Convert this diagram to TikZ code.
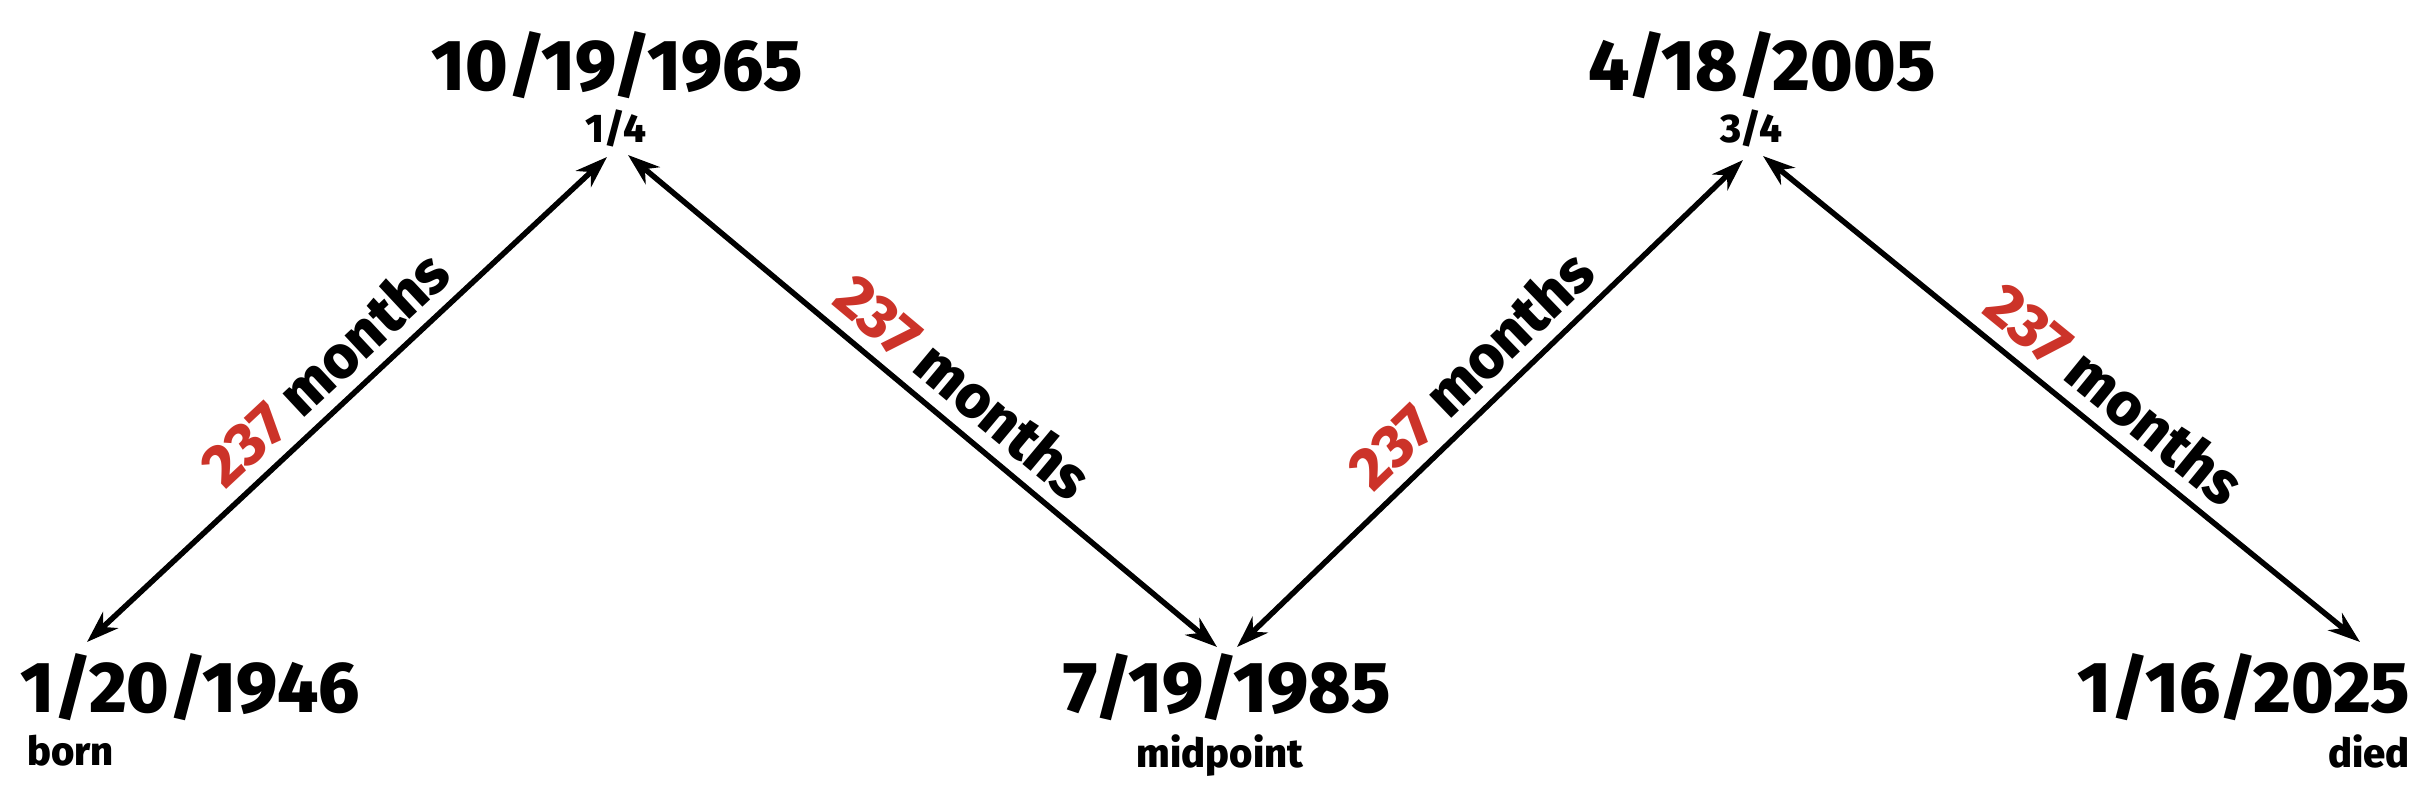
\documentclass[tikz,border=0pt]{standalone}
\usepackage{fontspec}
\IfFontExistsTF{Fira Sans Heavy}{\newfontfamily\futfont{Fira Sans Heavy}}{\IfFontExistsTF{Fira Sans ExtraBold}{\newfontfamily\futfont{Fira Sans ExtraBold}}{\newfontfamily\futfont{Fira Sans Bold}}}
\usetikzlibrary{arrows.meta}
\definecolor{numred}{HTML}{CC3329}
\begin{document}
\begin{tikzpicture}[x=1pt,y=-1pt,
  datetxt/.style={font=\futfont\fontsize{72}{72}\selectfont, inner sep=0pt, anchor=base},
  subtxt/.style={font=\futfont\fontsize{40}{40}\selectfont, inner sep=0pt, anchor=base},
  arr/.style={line width=5.5pt, {Stealth[length=32pt,width=22pt,inset=10pt]}-{Stealth[length=32pt,width=22pt,inset=10pt]}},
  monlab/.style={font=\futfont\fontsize{60}{60}\selectfont, sloped, anchor=south, inner xsep=0pt, inner ysep=12pt}]
\useasboundingbox (0,0) rectangle (2430,798);
% dates
\node[datetxt] (d1) at (190,712) {1/20/1946};
\node[subtxt, anchor=base west] (s1) at (27,765) {born};
\node[datetxt] (d2) at (617,90) {10/19/1965};
\node[subtxt] (s2) at (616,142) {1/4};
\node[datetxt] (d3) at (1227,712) {7/19/1985};
\node[subtxt] (s3) at (1220,767) {midpoint};
\node[datetxt] (d4) at (1762,90) {4/18/2005};
\node[subtxt] (s4) at (1751,142) {3/4};
\node[datetxt] (d5) at (2244,712) {1/16/2025};
\node[subtxt, anchor=base east] (s5) at (2410,767) {died};
% arrow tips
\coordinate (t1) at (87,642);
\coordinate (t2a) at (607,157);
\coordinate (t2b) at (628,155);
\coordinate (t3a) at (1217,647);
\coordinate (t3b) at (1237,647);
\coordinate (t4a) at (1743,160);
\coordinate (t4b) at (1763,156);
\coordinate (t5) at (2360,642);
% connectors
\draw[arr] (t1) -- node[monlab, pos=0.507] {\textcolor{numred}{237} months} (t2a);
\draw[arr] (t2b) -- node[monlab, pos=0.529] {\textcolor{numred}{237} months} (t3a);
\draw[arr] (t3b) -- node[monlab, pos=0.514] {\textcolor{numred}{237} months} (t4a);
\draw[arr] (t4b) -- node[monlab, pos=0.55] {\textcolor{numred}{237} months} (t5);
\end{tikzpicture}
\end{document}
